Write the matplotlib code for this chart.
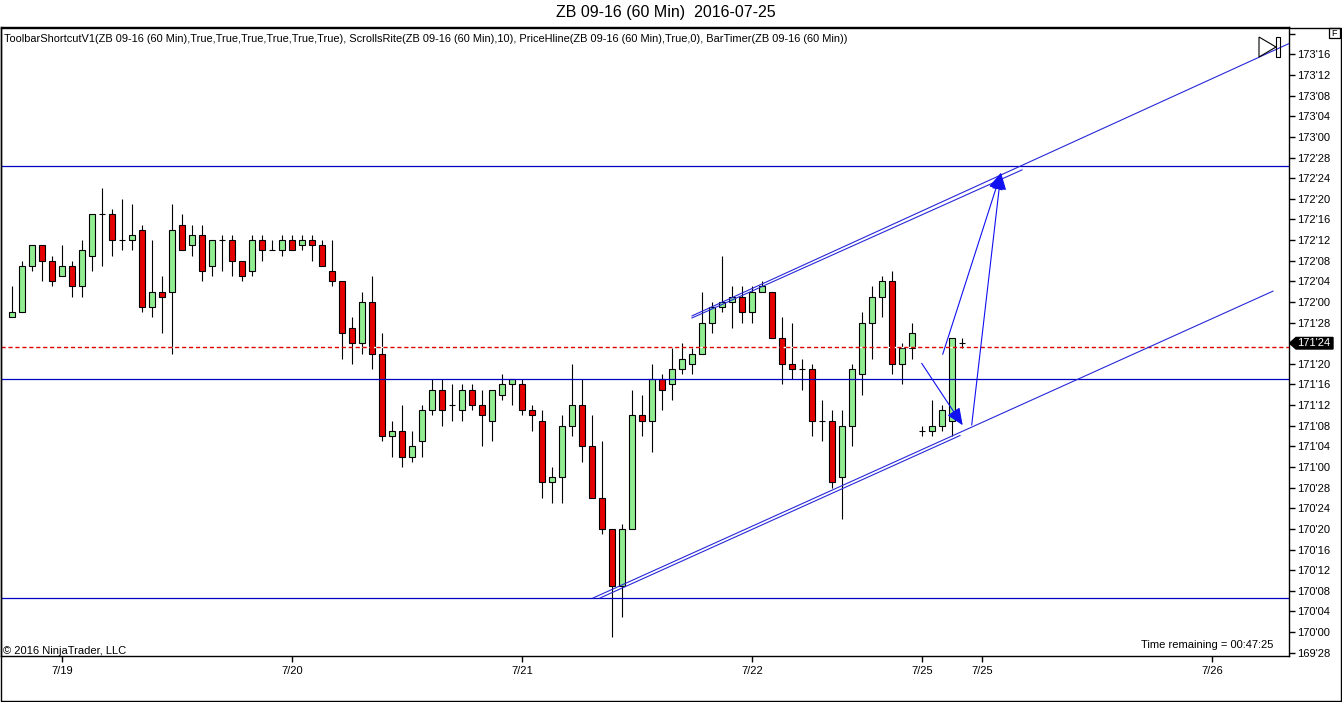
import matplotlib
matplotlib.use("Agg")
import matplotlib.pyplot as plt
from matplotlib import transforms
from matplotlib.patches import Polygon, Rectangle
from matplotlib.ticker import FixedLocator, FuncFormatter

W, H = 1342, 702
plt.rcParams["font.family"] = ["Liberation Sans", "DejaVu Sans"]

TITLE = "ZB 09-16 (60 Min)  2016-07-25"
HEADER = ("ToolbarShortcutV1(ZB 09-16 (60 Min),True,True,True,True,True,True), "
          "ScrollsRite(ZB 09-16 (60 Min),10), PriceHline(ZB 09-16 (60 Min),True,0), "
          "BarTimer(ZB 09-16 (60 Min))")

# hourly bars, prices in 32nds above 170'00
opens = [61, 62, 71, 75, 72, 69, 71, 67, 73, 81, 81, 76, 76, 78, 63, 66, 66, 79, 75, 77,
         71, 76, 76, 72, 70, 76, 74, 74, 76, 75, 76, 75, 70, 68, 59, 56, 64, 54, 38, 39,
         34, 37, 43, 47, 44, 43, 47, 44, 41, 46, 48, 48, 43, 41, 29, 30, 40, 44, 36, 26,
         20, 9, 20, 42, 41, 49, 48, 51, 52, 54, 60, 63, 64, 65, 62, 66, 66, 57, 52, 51,
         51, 41, 41, 30, 40, 50, 60, 65, 68, 52, 55, 39, 39, 40, 41, 56]
highs = [67, 72, 75, 75, 73, 75, 72, 76, 81, 86, 82, 84, 83, 79, 76, 69, 83, 81, 79, 79,
         76, 77, 77, 72, 77, 77, 76, 77, 77, 77, 77, 76, 76, 68, 61, 66, 69, 58, 41, 44,
         39, 44, 49, 49, 48, 48, 48, 47, 47, 50, 49, 49, 44, 43, 32, 42, 52, 49, 42, 37,
         20, 21, 47, 46, 52, 50, 55, 56, 55, 66, 64, 73, 67, 67, 67, 68, 66, 61, 60, 53,
         52, 45, 43, 43, 52, 62, 67, 69, 70, 56, 60, 40, 45, 44, 57, 57]
lows = [61, 62, 70, 68, 67, 69, 65, 65, 70, 71, 73, 74, 74, 62, 61, 58, 54, 74, 73, 68,
        69, 70, 69, 68, 69, 72, 74, 73, 74, 74, 72, 71, 67, 53, 52, 54, 51, 37, 34, 32,
        33, 34, 42, 40, 41, 41, 43, 36, 37, 45, 44, 42, 39, 26, 25, 25, 38, 33, 26, 19,
        -1, 3, 20, 38, 35, 43, 45, 50, 50, 54, 58, 62, 59, 60, 60, 66, 57, 48, 49, 47,
        38, 37, 28, 22, 36, 46, 53, 61, 50, 48, 53, 38, 38, 39, 38, 55]
closes = [62, 71, 75, 72, 68, 71, 67, 74, 81, 81, 76, 76, 77, 63, 66, 65, 78, 74, 77, 70,
          76, 76, 72, 69, 76, 74, 74, 76, 74, 76, 75, 71, 68, 58, 56, 64, 54, 38, 39, 34,
          36, 43, 47, 43, 44, 47, 44, 42, 47, 48, 49, 43, 42, 29, 30, 40, 44, 36, 26, 20,
          9, 20, 42, 41, 49, 47, 51, 53, 54, 60, 63, 64, 65, 62, 66, 67, 57, 52, 51, 51,
          41, 41, 29, 40, 51, 60, 65, 68, 52, 55, 58, 39, 40, 43, 57, 56]

date_ticks = [5, 28, 51, 74, 91, 97, 120]
date_labels = ["7/19", "7/20", "7/21", "7/22", "7/25", "7/25", "7/26"]
price_ticks = list(range(-4, 117, 4))

# drawing objects (bar index, 32nds)
horizontal_lines = [90.4, 49.1, 6.6]
price_hline = 55.25
last_price = 56
trend_lines = [
    [(58.1, 6.6), (126.1, 66.1)],
    [(58.8, 6.6), (94.8, 38.1)],
    [(68.0, 61.3), (127.7, 114.1)],
    [(68.0, 60.9), (101.0, 89.6)],
]
arrow_lines = [
    [(90.97, 52.1), (95.07, 40.1)],
    [(93.07, 53.85), (98.9, 89.06)],
    [(95.97, 40.15), (98.9, 89.06)],
]

UP_COLOR = "#90EE90"
DOWN_COLOR = "#E60000"
LINE_BLUE = "#0000C0"
TREND_BLUE = "#2828D8"


def fmt_32nds(t, pos=None):
    t = int(round(t))
    if t >= 116:
        return ""
    return f"{170 + t // 32}'{t % 32:02d}"


fig = plt.figure(figsize=(W / 100, H / 100), dpi=100)
ax = fig.add_axes([1 / W, 1 - 656 / H, 1288 / W, 629 / H])
ax.set_xlim(-1.1, 127.7)
ax.set_ylim(-4.64, 117.31)

# candles
xs = list(range(len(opens)))
ax.vlines(xs, lows, highs, color="black", linewidth=0.8, zorder=2)
bottoms = [min(o, c) for o, c in zip(opens, closes)]
heights = [abs(c - o) for o, c in zip(opens, closes)]
colors = [UP_COLOR if c > o else DOWN_COLOR for o, c in zip(opens, closes)]
ax.bar(xs, heights, bottom=bottoms, width=0.66, color=colors,
       edgecolor="black", linewidth=0.8, zorder=3)

# drawing objects
for y in horizontal_lines:
    ax.axhline(y, color=LINE_BLUE, linewidth=0.9, zorder=4)
ax.axhline(price_hline, color="#E00000", linewidth=1.0, linestyle=(0, (3, 2)),
           gapcolor="white", zorder=4)
for (x0, y0), (x1, y1) in trend_lines:
    ax.plot([x0, x1], [y0, y1], color=TREND_BLUE, linewidth=0.8, zorder=5)
for (x0, y0), (x1, y1) in arrow_lines:
    ax.annotate("", xy=(x1, y1), xytext=(x0, y0),
                arrowprops=dict(arrowstyle="-|>,head_length=1.05,head_width=0.45",
                                mutation_scale=10, color="#1010F0", linewidth=0.8,
                                shrinkA=0, shrinkB=0), zorder=6)

# axes styling
for side in ["left", "right", "top", "bottom"]:
    ax.spines[side].set_linewidth(1.0)
    ax.spines[side].set_color("black")
ax.yaxis.tick_right()
ax.yaxis.set_major_locator(FixedLocator(price_ticks))
ax.yaxis.set_major_formatter(FuncFormatter(fmt_32nds))
ax.xaxis.set_major_locator(FixedLocator(date_ticks))
ax.set_xticklabels(date_labels)
ax.tick_params(axis="both", direction="out", length=4, width=1, labelsize=8, pad=2)
ax.tick_params(axis="x", pad=3)

# pixel overlay for chart furniture
ov = fig.add_axes([0, 0, 1, 1], zorder=10)
ov.set_xlim(0, W)
ov.set_ylim(H, 0)
ov.axis("off")
ov.patch.set_alpha(0)

ov.plot([0.5, 1340.5, 1340.5, 0.5, 0.5], [27.5, 27.5, 700.5, 700.5, 27.5],
        color="black", linewidth=1.0)
ov.text(666, 13, TITLE, ha="center", va="center", fontsize=11.5)
ov.text(4, 38.5, HEADER, ha="left", va="center", fontsize=7.9)
ov.text(3, 650.5, "\u00a9 2016 NinjaTrader, LLC", ha="left", va="center", fontsize=8)
ov.text(1273, 644.5, "Time remaining = 00:47:25", ha="right", va="center", fontsize=8)

ov.add_patch(Rectangle((1328.5, 28), 11, 10, fill=False, edgecolor="black", linewidth=0.9))
ov.text(1334, 33, "F", ha="center", va="center", fontsize=6.5)
ov.add_patch(Polygon([(1259, 37), (1259, 57), (1276, 47)], closed=True, fill=False,
                     edgecolor="black", linewidth=0.8))
ov.add_patch(Rectangle((1276, 37), 3.5, 20, fill=False, edgecolor="black", linewidth=0.8))

# last price marker on the price scale
mark = transforms.blended_transform_factory(ov.transData, ax.transData)
half = 1.12
ov.add_patch(Polygon([(1289.5, last_price), (1296, last_price + half), (1333, last_price + half),
                      (1333, last_price - half), (1296, last_price - half)],
                     closed=True, facecolor="black", edgecolor="black", transform=mark))
ov.text(1314, last_price, f"{170 + last_price // 32}'{last_price % 32:02d}", color="white",
        ha="center", va="center", fontsize=8, transform=mark)

fig.savefig("out.png", dpi=100)
